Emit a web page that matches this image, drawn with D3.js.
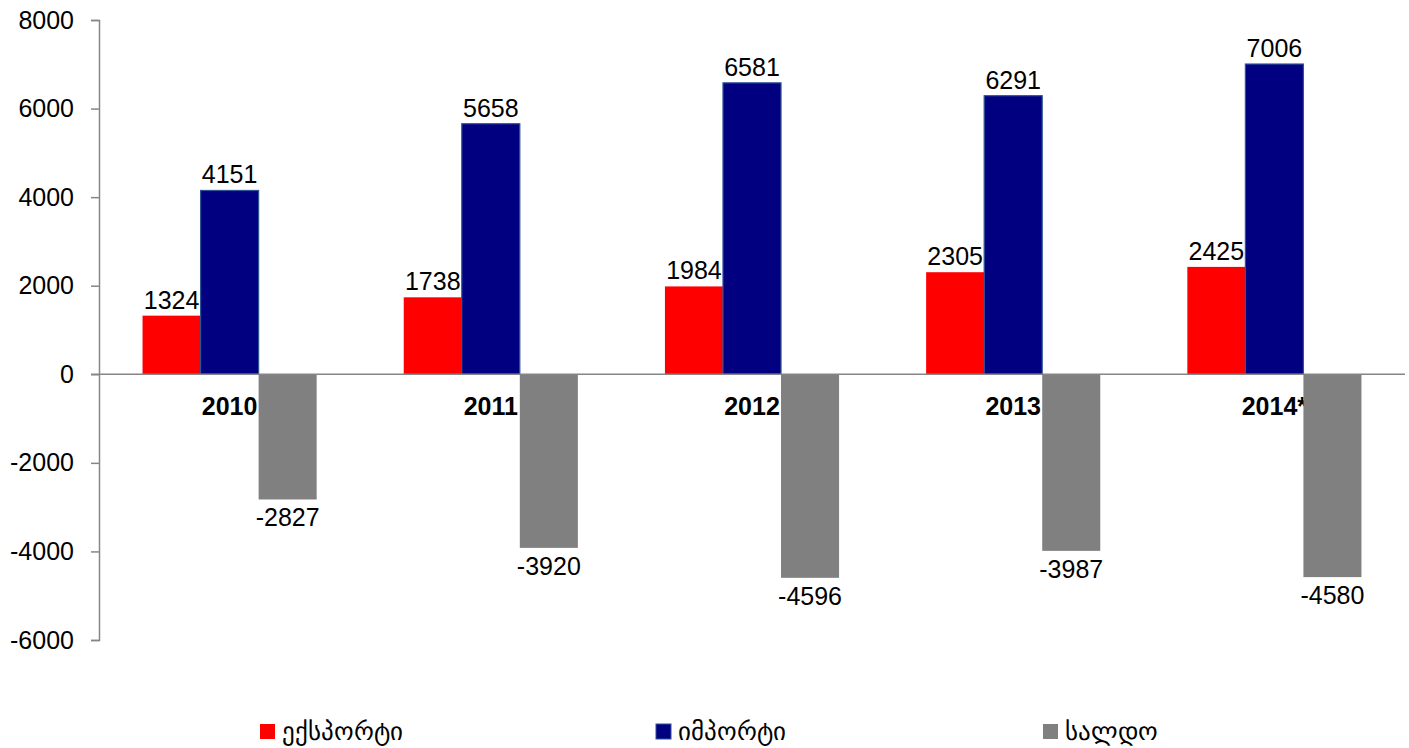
<!DOCTYPE html>
<html>
<head>
<meta charset="utf-8">
<script src="https://cdn.jsdelivr.net/npm/d3@7/dist/d3.min.js"></script>
<style>
  html, body { margin: 0; padding: 0; background: #fff; }
  svg { display: block; }
  text { font-family: "Liberation Sans", Arial, sans-serif; fill: #000; }
</style>
</head>
<body>
<svg id="chart" width="1409" height="748"></svg>
<script>
const years = ["2010", "2011", "2012", "2013", "2014*"];
const seriesNames = ["ექსპორტი", "იმპორტი", "სალდო"];
const exportValues = [1324, 1738, 1984, 2305, 2425];
const importValues = [4151, 5658, 6581, 6291, 7006];
const saldoValues = [-2827, -3920, -4596, -3987, -4580];
const yTicks = [-6000, -4000, -2000, 0, 2000, 4000, 6000, 8000];
const seriesColors = ["#FF0000", "#000080", "#808080"];
const seriesStrokes = [null, "#2F5597", null];

const seriesValues = [exportValues, importValues, saldoValues];

const svg = d3.select("#chart");
const plotLeft = 99, plotRight = 1405, plotTop = 20, plotBottom = 640;

const y = d3.scaleLinear().domain([-6000, 8000]).range([plotBottom, plotTop]);
const x0 = d3.scaleBand().domain(years).range([plotLeft, plotRight]).padding(0);
const bw = x0.bandwidth();
const barW = bw / 4.5; // Excel gap width 150%
const x1 = d3.scaleBand().domain(seriesNames)
  .range([barW * 0.75, barW * 0.75 + barW * 3]).padding(0);

// Y axis
const yAxis = d3.axisLeft(y).tickValues(yTicks).tickSize(8).tickPadding(17).tickFormat(d => String(d));
const yg = svg.append("g").attr("transform", `translate(${plotLeft},0)`).call(yAxis);
yg.select(".domain").attr("stroke", "#868686").attr("stroke-width", 1.5);
yg.selectAll(".tick line").attr("stroke", "#868686").attr("stroke-width", 1.5);
yg.selectAll(".tick text").attr("font-size", 25).attr("font-family", "Liberation Sans, Arial, sans-serif").attr("fill", "#000");

// Category labels (drawn before bars)
svg.append("g").selectAll("text").data(years).join("text")
  .attr("x", d => x0(d) + bw / 2)
  .attr("y", y(0) + 41)
  .attr("text-anchor", "middle")
  .attr("font-size", 25)
  .attr("font-weight", "bold")
  .text(d => d);

// Bars
const groups = svg.append("g").selectAll("g").data(years).join("g")
  .attr("transform", d => `translate(${x0(d)},0)`);

groups.each(function(yr, i) {
  const g = d3.select(this);
  seriesNames.forEach((s, k) => {
    const v = seriesValues[k][i];
    const r = g.append("rect")
      .attr("x", x1(s))
      .attr("width", x1.bandwidth())
      .attr("y", Math.min(y(v), y(0)))
      .attr("height", Math.abs(y(v) - y(0)))
      .attr("fill", seriesColors[k]);
    if (seriesStrokes[k]) r.attr("stroke", seriesStrokes[k]).attr("stroke-width", 1.2);
  });
});

// Zero line
svg.append("line")
  .attr("x1", plotLeft - 8).attr("x2", plotRight)
  .attr("y1", y(0)).attr("y2", y(0))
  .attr("stroke", "#868686").attr("stroke-width", 1.5);

// Value labels
groups.each(function(yr, i) {
  const g = d3.select(this);
  seriesNames.forEach((s, k) => {
    const v = seriesValues[k][i];
    g.append("text")
      .attr("x", x1(s) + x1.bandwidth() / 2)
      .attr("y", v >= 0 ? y(v) - 7 : y(v) + 27)
      .attr("text-anchor", "middle")
      .attr("font-size", 25)
      .text(String(v));
  });
});

// Legend
const legendX = [260, 656, 1043];
const lg = svg.append("g").selectAll("g").data(seriesNames).join("g")
  .attr("transform", (d, k) => `translate(${legendX[k]},724)`);
lg.append("rect").attr("width", 15).attr("height", 15)
  .attr("fill", (d, k) => seriesColors[k])
  .attr("stroke", (d, k) => seriesStrokes[k] || "none");
lg.append("text").attr("x", 22).attr("y", 16)
  .attr("font-size", 25)
  .attr("font-family", "DejaVu Sans, Noto Sans, sans-serif")
  .text(d => d);
</script>
</body>
</html>
